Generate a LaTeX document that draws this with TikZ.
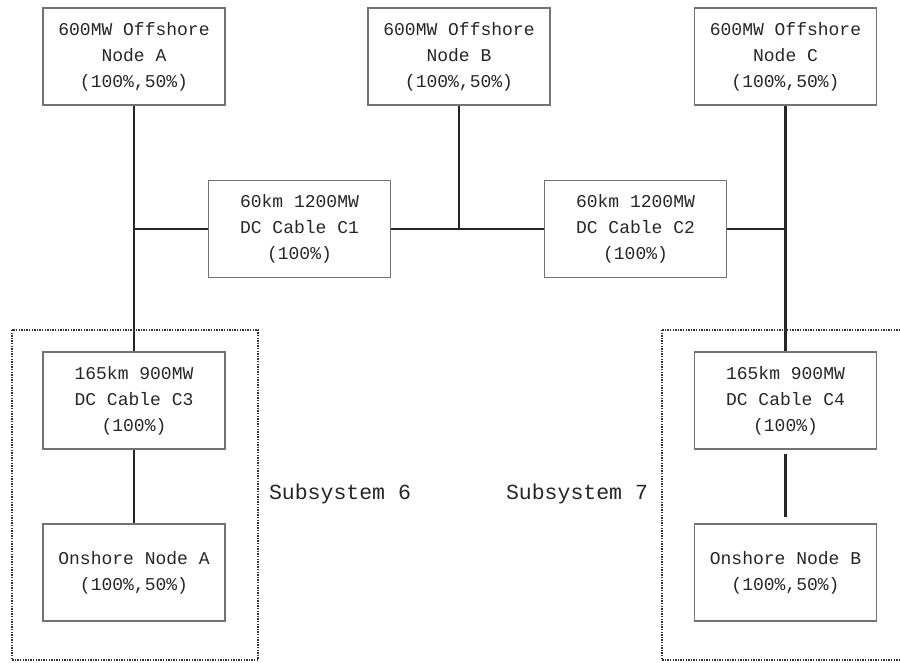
\documentclass[tikz,border=0pt]{standalone}
\usepackage{fontspec}
\setmainfont{Liberation Mono}
\begin{document}
\begin{tikzpicture}[x=1pt,y=-1pt,
  box/.style={draw=black!55,line width=1.3pt,minimum width=182pt,minimum height=97pt,
    inner sep=0pt,align=center,text=black!85,font=\fontsize{18}{26}\selectfont},
  wire/.style={draw=black!85,line width=2.1pt},
  subsys/.style={draw=black!80,line width=1.4pt,dash pattern=on 1.4pt off 1.2pt},
  lbl/.style={text=black!85,font=\fontsize{21.5}{26}\selectfont}]
\useasboundingbox (0,0) rectangle (900,662);
\node[box] (OA) at (134,56.5) {600MW Offshore\\Node A\\(100\%,50\%)};
\node[box] (OB) at (459,56.5) {600MW Offshore\\Node B\\(100\%,50\%)};
\node[box] (OC) at (785.5,56.5) {600MW Offshore\\Node C\\(100\%,50\%)};
\node[box] (C1) at (299.5,229) {60km 1200MW\\DC Cable C1\\(100\%)};
\node[box] (C2) at (635.5,229) {60km 1200MW\\DC Cable C2\\(100\%)};
\node[box] (C3) at (134,400.5) {165km 900MW\\DC Cable C3\\(100\%)};
\node[box] (C4) at (785.5,400.5) {165km 900MW\\DC Cable C4\\(100\%)};
\node[box] (NA) at (134,572.5) {Onshore Node A\\(100\%,50\%)};
\node[box] (NB) at (785.5,572.5) {Onshore Node B\\(100\%,50\%)};
\coordinate (jA) at (OA.south |- C1.west);
\coordinate (jB) at (OB.south |- C1.east);
\coordinate (jC) at (OC.south |- C2.east);
\draw[wire] (OA.south) -- (C3.north);
\draw[wire] (jA) -- (C1.west);
\draw[wire] (C1.east) -- (C2.west);
\draw[wire] (OB.south) -- (jB);
\draw[wire] (C2.east) -- (jC);
\draw[wire] (OC.south) -- (C4.north);
\draw[wire] (C3.south) -- (NA.north);
\draw[wire,shorten <=4pt,shorten >=6pt] (C4.south) -- (NB.north);
\draw[subsys] (12,330) rectangle (258,660);
\draw[subsys] (662,330) rectangle (910,660);
\node[lbl] (S6) at (340,494) {Subsystem 6};
\node[lbl] (S7) at (577,494) {Subsystem 7};
\end{tikzpicture}
\end{document}
